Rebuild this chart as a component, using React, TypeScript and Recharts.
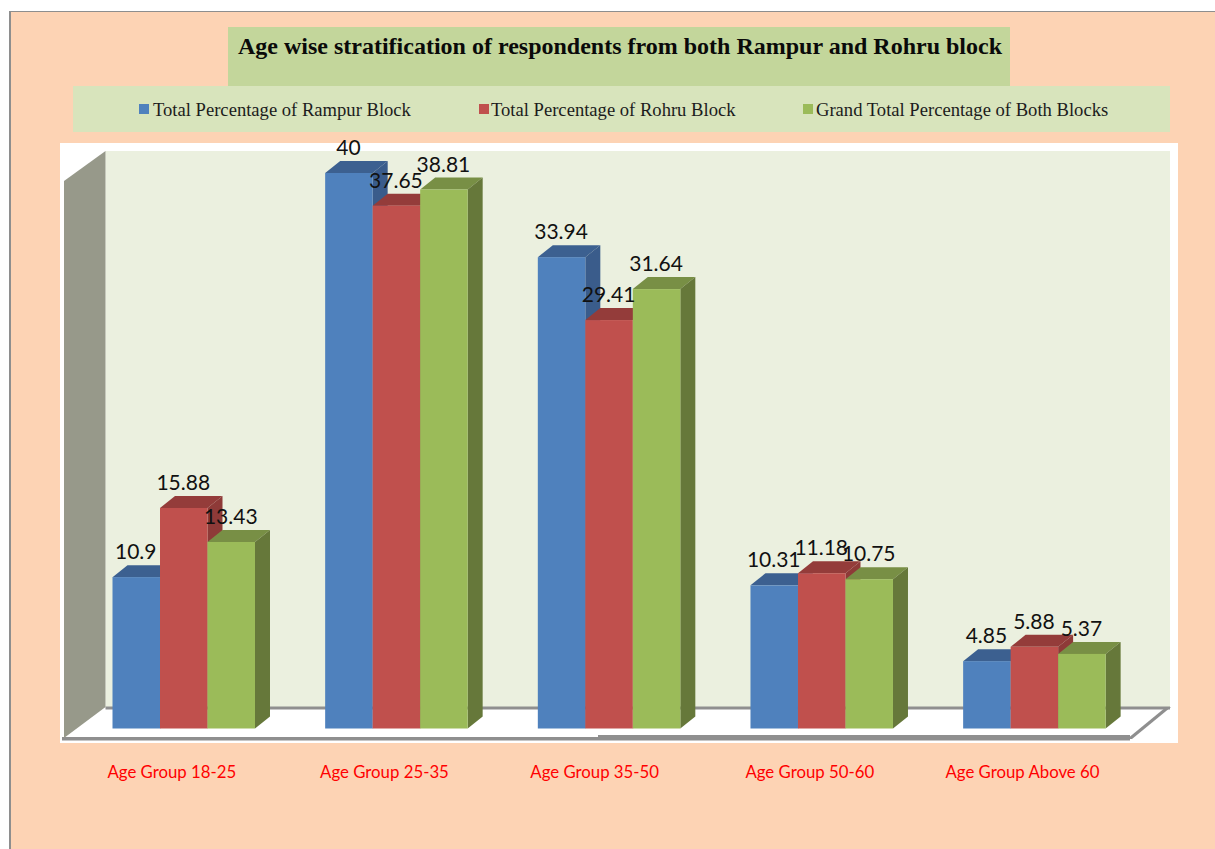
import React from 'react';
import { BarChart, Bar, XAxis, YAxis, Legend, LabelList } from 'recharts';

const categories = ['Age Group 18-25', 'Age Group 25-35', 'Age Group 35-50', 'Age Group 50-60', 'Age Group Above 60'];
const rampur = [10.9, 40, 33.94, 10.31, 4.85];
const rohru = [15.88, 37.65, 29.41, 11.18, 5.88];
const both = [13.43, 38.81, 31.64, 10.75, 5.37];
const seriesNames = ['Total Percentage of Rampur Block', 'Total Percentage of Rohru Block', 'Grand Total Percentage of Both Blocks'];

const rows = categories.map((category, i) => ({ category, rampur: rampur[i], rohru: rohru[i], both: both[i] }));

const DX = 15;
const DY = 12;
const legendX = [139, 479, 803];
const legendTextX = [153, 491, 816];
const tickShift = [-12, -12, -14.5, -12, -12];

const box3d = (top: string, side: string) => (p: any) => {
  const { x, y, width: w, height: h, fill } = p;
  return (
    <g>
      <polygon points={`${x},${y} ${x + DX},${y - DY} ${x + w + DX},${y - DY} ${x + w},${y}`} fill={top} />
      <polygon points={`${x + w},${y} ${x + w + DX},${y - DY} ${x + w + DX},${y + h - DY} ${x + w},${y + h}`} fill={side} />
      <rect x={x} y={y} width={w} height={h} fill={fill} />
    </g>
  );
};

const valueLabel = (p: any) => (
  <text x={p.x + p.width / 2 - 0.5} y={p.y - 18} textAnchor="middle" fontFamily="Lato, sans-serif" fontSize={21} fill="#111">
    {p.value}
  </text>
);

const CategoryTick = (p: any) => (
  <text x={p.x + tickShift[p.index]} y={777.5} textAnchor="middle" fontFamily="Lato, sans-serif" fontSize={16.8} fill="#FF0000">
    {p.payload.value}
  </text>
);

const LegendContent = (p: any) => (
  <div style={{ position: 'relative', width: 1215, height: 45 }}>
    {(p.payload || []).map((item: any, i: number) => (
      <React.Fragment key={item.value}>
        <span style={{ position: 'absolute', left: legendX[i], top: 18, width: 10, height: 10, background: item.color }} />
        <span style={{ position: 'absolute', left: legendTextX[i], top: 13, whiteSpace: 'nowrap', fontFamily: '"Liberation Serif", serif', fontSize: 18.6, lineHeight: '22px', color: '#1c1c1c' }}>
          {item.value}
        </span>
      </React.Fragment>
    ))}
  </div>
);

export default function App() {
  return (
    <div style={{ position: 'fixed', left: 0, top: 0, width: 1215, height: 849, background: '#fff', overflow: 'hidden' }}>
      <div style={{ position: 'absolute', left: 9, top: 11, width: 1206, height: 838, boxSizing: 'border-box', background: '#FDD3B4', borderLeft: '2.5px solid #8E8E8E', borderTop: '1.5px solid #8E8E8E' }} />
      <div style={{ position: 'absolute', left: 228, top: 27, width: 782, height: 59, background: '#C3D69B' }} />
      <div style={{ position: 'absolute', left: 238, top: 31, whiteSpace: 'nowrap', fontFamily: '"Liberation Serif", serif', fontWeight: 'bold', fontSize: 24, lineHeight: '30px', color: '#0a0a0a' }}>
        Age wise stratification of respondents from both Rampur and Rohru block
      </div>
      <div style={{ position: 'absolute', left: 73, top: 86, width: 1097, height: 45.5, background: '#D8E4BC' }} />
      <div style={{ position: 'absolute', left: 60, top: 143, width: 1118, height: 600, background: '#fff' }} />
      <svg width={1215} height={849} style={{ position: 'absolute', left: 0, top: 0 }}>
        <rect x={105.5} y={151} width={1064.5} height={557} fill="#EBF0DF" />
        <polygon points="105.5,708 1170,708 1130,738 64,738" fill="#fff" />
        <rect x={105.5} y={706.5} width={1064.5} height={3} fill="#8F8F8F" />
        <polygon points="1166,707 1171,707 1132,739 1127,739" fill="#8F8F8F" />
        <rect x={62} y={737} width={536} height={3.5} fill="#8F8F8F" />
        <rect x={598} y={735} width={532} height={5.5} fill="#8F8F8F" />
        <polygon points="64,181 105.5,151 105.5,707 64,738" fill="#97998A" />
      </svg>
      <div style={{ position: 'absolute', left: 0, top: 0 }}>
        <BarChart
          width={1215}
          height={849}
          data={rows}
          barCategoryGap={35}
          barGap={0}
          barSize={47.5}
          margin={{ top: 173, right: 74.2, bottom: 60.5, left: 77.5 }}
        >
          <XAxis dataKey="category" height={60} axisLine={false} tickLine={false} tick={CategoryTick} interval={0} />
          <YAxis hide domain={[0, 40]} />
          <Legend
            layout="horizontal"
            verticalAlign="middle"
            align="center"
            itemSorter={null}
            content={LegendContent}
            wrapperStyle={{ left: 0, top: 86, width: 1215, height: 45 }}
          />
          <Bar dataKey="rampur" name={seriesNames[0]} fill="#4F81BD" isAnimationActive={false} shape={box3d('#3C6090', '#3A5C8B')}>
            <LabelList dataKey="rampur" content={valueLabel} />
          </Bar>
          <Bar dataKey="rohru" name={seriesNames[1]} fill="#C0504D" isAnimationActive={false} shape={box3d('#943C3A', '#8E3A38')}>
            <LabelList dataKey="rohru" content={valueLabel} />
          </Bar>
          <Bar dataKey="both" name={seriesNames[2]} fill="#9BBB59" isAnimationActive={false} shape={box3d('#788F45', '#66783A')}>
            <LabelList dataKey="both" content={valueLabel} />
          </Bar>
        </BarChart>
      </div>
    </div>
  );
}
